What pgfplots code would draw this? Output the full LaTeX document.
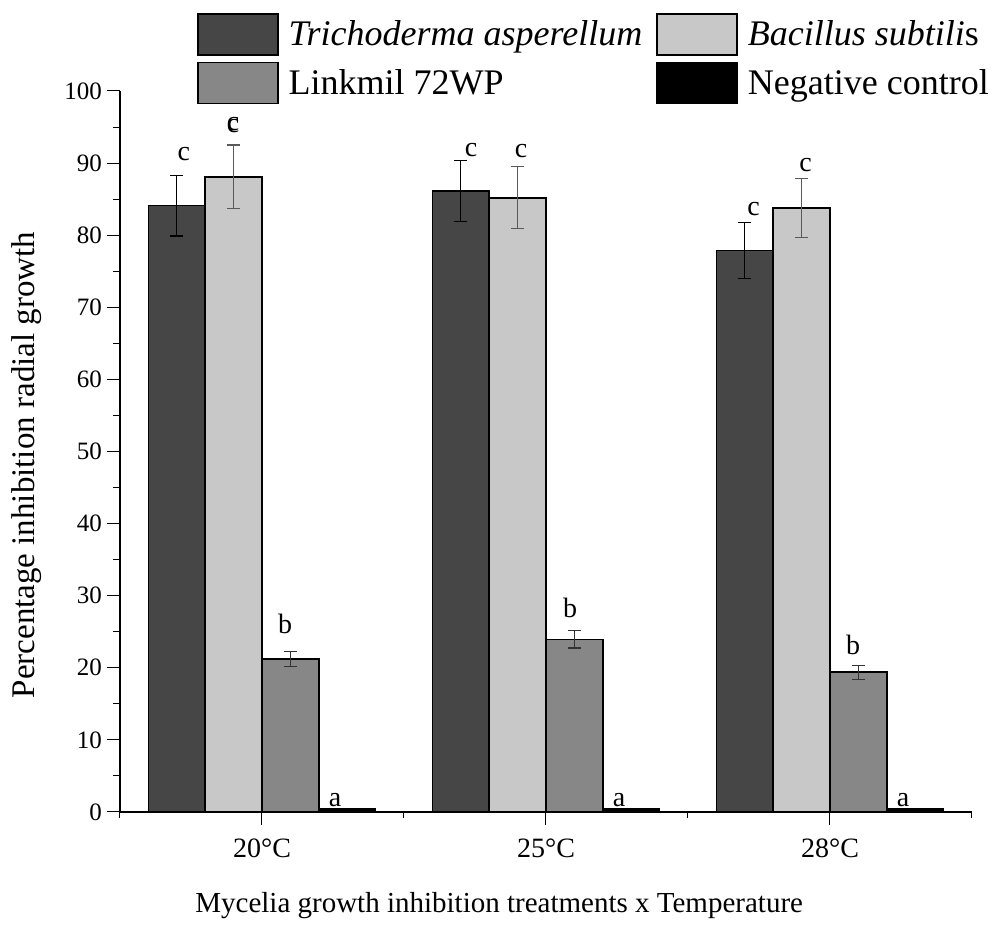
\documentclass[border=0pt]{standalone}
\usepackage{fontspec}
\setmainfont{Liberation Serif}
\usepackage{pgfplots}
\usepackage{pgfplotstable}
\pgfplotsset{compat=1.18}
\definecolor{cdark}{HTML}{464646}
\definecolor{clight}{HTML}{C8C8C8}
\definecolor{cmed}{HTML}{878787}
\pgfplotstableread{
x y e
-0.3 84.1 4.2
0.7 86.1 4.25
1.7 77.9 3.9
}\tasp
\pgfplotstableread{
x y e
-0.1 88.1 4.4
0.9 85.2 4.3
1.9 83.8 4.1
}\bsub
\pgfplotstableread{
x y e
0.1 21.2 1.05
1.1 23.95 1.2
2.1 19.4 0.97
}\link
\pgfplotstableread{
x y
0.3 0.5
1.3 0.5
2.3 0.5
}\negc
\begin{document}
\begin{tikzpicture}
\begin{axis}[
  at={(0,0)}, anchor=south west,
  scale only axis, width=426pt, height=360.5pt,
  xmin=-0.5, xmax=2.5, ymin=0, ymax=100,
  enlargelimits=false, clip=false,
  axis x line*=bottom, axis y line*=left,
  axis line style={-, line width=0.6pt},
  tick align=outside,
  major tick length=6.5pt, minor tick length=3.25pt,
  tick style={line width=0.5pt, black},
  xtick={0,1,2}, xticklabels={20°C,25°C,28°C},
  minor xtick={-0.5,0.5,1.5,2.5},
  ytick={0,10,...,100}, minor y tick num=1,
  /pgf/number format/assume math mode=true,
  xticklabel style={font=\fontsize{14}{16}\selectfont, yshift=-3.5pt},
  yticklabel style={font=\fontsize{12.5}{14}\selectfont, xshift=1pt},
  xlabel={Mycelia growth inhibition treatments x Temperature},
  xlabel style={font=\fontsize{14.5}{16}\selectfont, at={(axis description cs:0.445,-0.1387)}, anchor=base},
  ylabel={Percentage inhibition radial growth},
  ylabel style={font=\fontsize{16.5}{18}\selectfont, at={(axis description cs:-0.0998,0.148)}, anchor=base west},
  legend columns=2,
  legend style={draw=none, fill=none, at={(axis description cs:0.0904,1.108)}, anchor=north west,
    inner sep=0pt, outer sep=0pt, font=\fontsize{18}{20}\selectfont,
    nodes={inner sep=0pt, anchor=base west},
    /tikz/every odd column/.append style={column sep=5pt},
    /tikz/every even column/.append style={column sep=7pt},
    row sep=3pt},
  legend cell align=left,
  legend image code/.code={\draw[#1, draw=black, line width=0.8pt] (0pt,-4.5pt) rectangle (40pt,16pt);},
]
\addplot[ybar, bar width=0.2, bar shift=0pt, fill=cdark, draw=black, line width=0.8pt,
  error bars/.cd, y dir=both, y explicit,
  error bar style={black, line width=0.6pt},
  error mark options={rotate=90, mark size=3.2pt, line width=0.6pt, black}]
  table[x=x, y=y, y error=e] {\tasp};
\addlegendentry{\textit{Trichoderma asperellum}}
\addplot[ybar, bar width=0.2, bar shift=0pt, fill=clight, draw=black, line width=0.8pt,
  error bars/.cd, y dir=both, y explicit,
  error bar style={black!65, line width=0.6pt},
  error mark options={rotate=90, mark size=3.2pt, line width=0.6pt, black!65}]
  table[x=x, y=y, y error=e] {\bsub};
\addlegendentry{\textit{Bacillus subtili}s}
\addplot[ybar, bar width=0.2, bar shift=0pt, fill=cmed, draw=black, line width=0.8pt,
  error bars/.cd, y dir=both, y explicit,
  error bar style={black!80, line width=0.6pt},
  error mark options={rotate=90, mark size=3.2pt, line width=0.6pt, black!80}]
  table[x=x, y=y, y error=e] {\link};
\addlegendentry{Linkmil 72WP}
\addplot[ybar, bar width=0.2, bar shift=0pt, fill=black, draw=black, line width=0.8pt]
  table[x=x, y=y] {\negc};
\addlegendentry{Negative control}
\begin{scope}[every node/.style={font=\fontsize{14}{16}\selectfont, anchor=base, inner sep=0pt}]
\node at (axis cs:-0.275,90.4) {c};
\node at (axis cs:-0.102,94.3) {c};
\node at (axis cs:-0.102,94.55) {c};
\node at (axis cs:0.081,24.7) {b};
\node at (axis cs:0.257,0.83) {a};
\node at (axis cs:0.736,90.85) {c};
\node at (axis cs:0.912,90.8) {c};
\node at (axis cs:1.085,27.0) {b};
\node at (axis cs:1.257,0.83) {a};
\node at (axis cs:1.731,82.8) {c};
\node at (axis cs:1.914,88.8) {c};
\node at (axis cs:2.081,21.8) {b};
\node at (axis cs:2.257,0.83) {a};
\end{scope}
\end{axis}
\pgfresetboundingbox
\path (-60pt,-63pt) rectangle (439pt,406pt);
\end{tikzpicture}
\end{document}
